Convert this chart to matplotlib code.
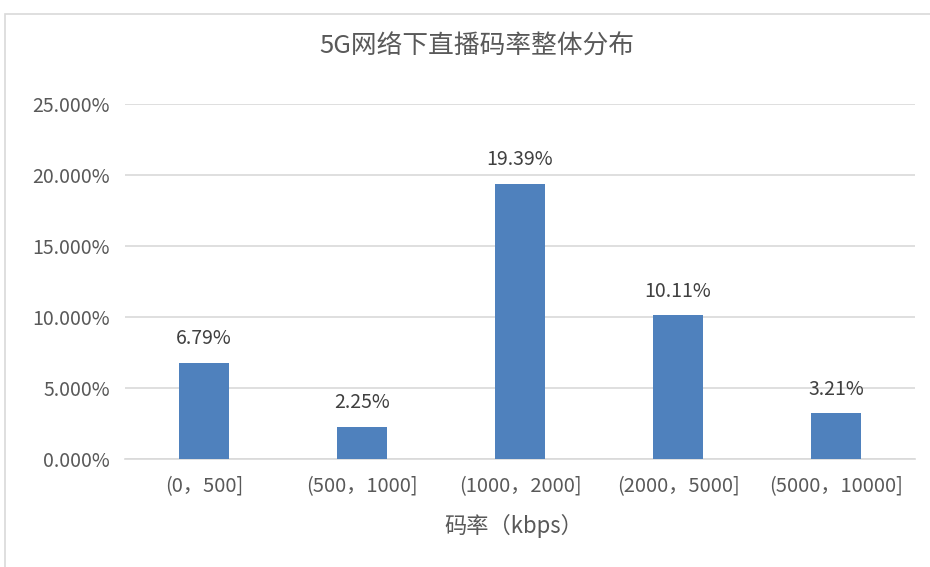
import matplotlib.pyplot as plt
from matplotlib.ticker import FuncFormatter
from matplotlib.patches import Rectangle

plt.rcParams['font.family'] = ['Noto Sans CJK SC', 'DejaVu Sans']

categories = ['(0，500]', '(500，1000]', '(1000，2000]', '(2000，5000]', '(5000，10000]']
values = [6.79, 2.25, 19.39, 10.11, 3.21]
value_labels = ['6.79%', '2.25%', '19.39%', '10.11%', '3.21%']
yticks = [0, 5, 10, 15, 20, 25]

fig = plt.figure(figsize=(9.3, 5.67), dpi=100)
ax = fig.add_axes([125 / 930, 1 - 459 / 567, 790 / 930, 355 / 567])

# 图表外框
fig.patches.append(Rectangle((5 / 930, -0.1), 1.1, 1 - 14 / 567 + 0.1, transform=fig.transFigure,
                             fill=False, edgecolor='#d9d9d9', linewidth=1.2))

x = range(len(categories))
ax.bar(x, values, width=0.316, color='#4f81bd', zorder=3)
for xi, v, lab in zip(x, values, value_labels):
    ax.annotate(lab, (xi, v), xytext=(0, 10), textcoords='offset points',
                ha='center', va='bottom', fontsize=14, color='#404040')

ax.set_xlim(-0.5, len(categories) - 0.5)
ax.set_ylim(0, 25)
ax.set_yticks(yticks)
ax.yaxis.set_major_formatter(FuncFormatter(lambda v, p: f'{v:.3f}%'))
ax.set_xticks(list(x))
ax.set_xticklabels(categories)
ax.grid(axis='y', color='#d9d9d9', linewidth=1.2, zorder=0)
for s in ['top', 'right', 'left']:
    ax.spines[s].set_visible(False)
ax.spines['bottom'].set_color('#d9d9d9')
ax.spines['bottom'].set_linewidth(1.2)
ax.tick_params(axis='both', length=0, colors='#595959')
ax.tick_params(axis='x', pad=12, labelsize=14.5)
ax.tick_params(axis='y', pad=11, labelsize=14)

fig.text(477 / 930, 1 - 47 / 567, '5G网络下直播码率整体分布', ha='center', va='center',
         fontsize=18.5, color='#595959')
fig.text(514 / 930, 1 - 526 / 567, '码率（kbps）', ha='center', va='center',
         fontsize=16, color='#595959')

plt.savefig('out.png', dpi=100)
